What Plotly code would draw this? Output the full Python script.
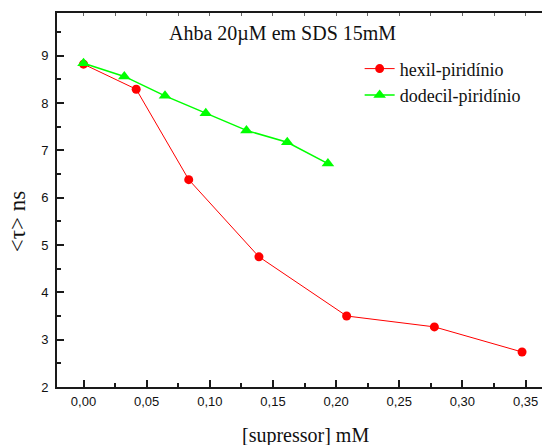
import plotly.graph_objects as go

# Quencher concentration (mM) and mean lifetime <tau> (ns)
hexil_conc = [0.0, 0.0417, 0.0833, 0.1389, 0.2083, 0.2778, 0.3472]
hexil_tau = [8.82, 8.29, 6.38, 4.75, 3.50, 3.27, 2.74]

dodecil_conc = [0.0, 0.0323, 0.0645, 0.0968, 0.1290, 0.1613, 0.1935]
dodecil_tau = [8.84, 8.56, 8.15, 7.78, 7.42, 7.17, 6.72]

hexil_name = "hexil-piridínio"
dodecil_name = "dodecil-piridínio"
title_text = "Ahba 20µM em SDS 15mM"
x_title = "[supressor] mM"
y_title = "<τ> ns"

x_range = [-0.021, 0.363]
y_range = [2, 9.9]

serif = "Liberation Serif"
sans = "Liberation Sans"
axis_color = "#1a1a1a"

fig = go.Figure()

fig.add_trace(go.Scatter(
    x=hexil_conc, y=hexil_tau, name=hexil_name, mode="lines+markers",
    line=dict(color="#ff0000", width=1),
    marker=dict(symbol="circle", size=9, color="#ff0000"),
))
fig.add_trace(go.Scatter(
    x=dodecil_conc, y=dodecil_tau, name=dodecil_name, mode="lines+markers",
    line=dict(color="#00ff00", width=1.5),
    marker=dict(symbol="triangle-up", size=11, color="#00ff00"),
))
# empty trace so the top (tick-only) axis is drawn
fig.add_trace(go.Scatter(x=[], y=[], xaxis="x2", showlegend=False, hoverinfo="skip"))

fig.update_layout(
    width=542, height=445,
    margin=dict(l=57, r=0, t=13, b=58),
    paper_bgcolor="white", plot_bgcolor="white",
    separators=",.",
    showlegend=True,
    legend=dict(
        x=0.624, y=0.90, xanchor="left", yanchor="top",
        font=dict(family=serif, size=18, color="#111"),
        bgcolor="rgba(0,0,0,0)", tracegroupgap=0,
    ),
    xaxis=dict(
        range=x_range, tick0=0, dtick=0.05, tickformat=".2f",
        showgrid=False, zeroline=False,
        showline=True, linecolor=axis_color, linewidth=2,
        ticks="inside", ticklen=7, tickwidth=1.5, tickcolor=axis_color,
        minor=dict(ticks="inside", ticklen=4, tickwidth=1.5, tickcolor=axis_color, dtick=0.025, tick0=0),
        tickfont=dict(family=sans, size=13, color="#111"),
        ticklabelstandoff=1,
    ),
    xaxis2=dict(
        overlaying="x", side="top", range=x_range, tick0=0, dtick=0.025,
        showgrid=False, zeroline=False, showticklabels=False,
        showline=True, linecolor=axis_color, linewidth=2,
        ticks="inside", ticklen=3, tickwidth=1, tickcolor="#666",
    ),
    yaxis=dict(
        range=y_range, tick0=0, dtick=1,
        showgrid=False, zeroline=False,
        showline=True, linecolor=axis_color, linewidth=2,
        ticks="inside", ticklen=7, tickwidth=1.5, tickcolor=axis_color,
        minor=dict(ticks="inside", ticklen=4, tickwidth=1.5, tickcolor=axis_color, dtick=0.5, tick0=0),
        tickfont=dict(family=sans, size=13, color="#111"),
        ticklabelstandoff=4,
    ),
    annotations=[
        dict(text=title_text, xref="paper", yref="paper", x=0.465, y=0.945,
             xanchor="center", yanchor="middle", showarrow=False,
             font=dict(family=serif, size=20, color="#111")),
        dict(text=x_title, xref="paper", yref="paper", x=0.512, y=-0.131,
             xanchor="center", yanchor="middle", showarrow=False,
             font=dict(family=serif, size=20, color="#111")),
        dict(text=y_title, xref="paper", yref="paper", x=-0.0797, y=0.4415,
             xanchor="center", yanchor="middle", showarrow=False, textangle=-90,
             font=dict(family=serif, size=23, color="#111")),
    ],
)

fig.write_html("out.html")
